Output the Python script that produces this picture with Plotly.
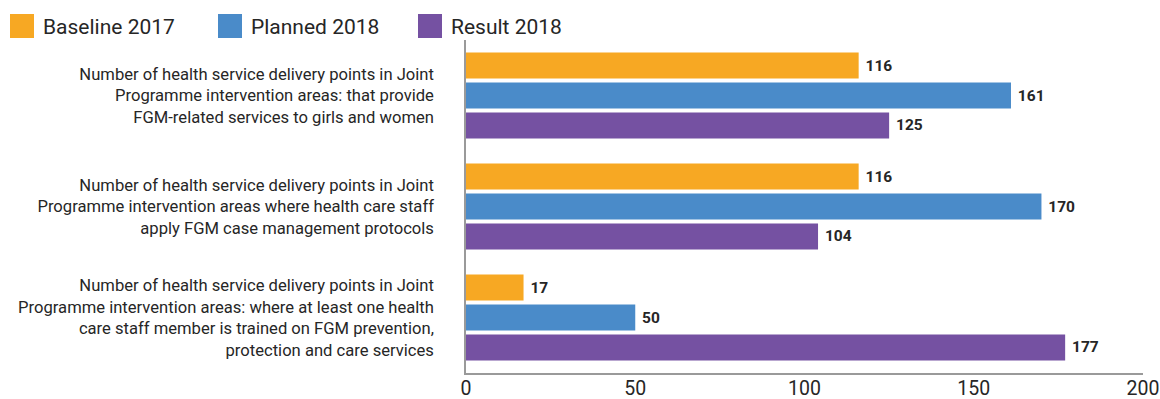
import plotly.graph_objects as go

categories = [
    "Number of health service delivery points in Joint<br>Programme intervention areas: that provide<br>FGM-related services to girls and women",
    "Number of health service delivery points in Joint<br>Programme intervention areas where health care staff<br>apply FGM case management protocols",
    "Number of health service delivery points in Joint<br>Programme intervention areas: where at least one health<br>care staff member is trained on FGM prevention,<br>protection and care services",
]
series_names = ["Baseline 2017", "Planned 2018", "Result 2018"]
baseline_2017 = [116, 116, 17]
planned_2018 = [161, 170, 50]
result_2018 = [125, 104, 177]
x_ticks = [0, 50, 100, 150, 200]

colors = ["#F7A823", "#4A8BC9", "#7551A2"]
FONT = "Roboto, sans-serif"

W, H = 1160, 399
L, R, T, B = 466, W - 1143, 40, H - 373
PW, PH = W - L - R, H - T - B

fig = go.Figure()
for name, vals, col in zip(series_names, [baseline_2017, planned_2018, result_2018], colors):
    fig.add_trace(go.Bar(
        y=categories, x=vals, name=name, orientation="h",
        marker=dict(color=col, line=dict(width=0)),
        text=[f" {v}" for v in vals], textposition="outside",
        textfont=dict(family=FONT, size=15.5, color="#262626", weight="bold"),
        cliponaxis=False, showlegend=False,
    ))

# manual legend (large square swatches like the reference), screen coords
leg_x = [10, 218, 418]
for name, col, lx in zip(series_names, colors, leg_x):
    fig.add_shape(type="rect", xref="paper", yref="paper",
                  x0=(lx - L) / PW, x1=(lx + 24 - L) / PW,
                  y0=(H - B - 38) / PH, y1=(H - B - 14) / PH,
                  fillcolor=col, line=dict(width=0))
    fig.add_annotation(text=name, xref="paper", yref="paper",
                       x=(lx + 31 - L) / PW, y=(H - B - 27) / PH,
                       xanchor="left", yanchor="middle", showarrow=False,
                       font=dict(family=FONT, size=21, color="#262626"))

fig.update_layout(
    width=W, height=H,
    margin=dict(l=L, r=R, t=T, b=B),
    paper_bgcolor="white", plot_bgcolor="white",
    barmode="group", bargap=0.19, bargroupgap=0.13,
    font=dict(family=FONT, color="#262626"),
    showlegend=False,
)
fig.update_yaxes(
    autorange="reversed", showgrid=False, zeroline=False, automargin=False,
    showline=True, linecolor="#9a9a9a", linewidth=1.5,
    ticks="", ticklabelstandoff=27,
    tickfont=dict(family=FONT, size=16.6, color="#262626"),
)
fig.update_xaxes(
    range=[0, 200], tickvals=x_ticks, showgrid=False, zeroline=False, automargin=False,
    showline=True, linecolor="#9a9a9a", linewidth=1.5, ticks="",
    ticklabelstandoff=-3,
    tickfont=dict(family=FONT, size=19.5, color="#262626"),
)

fig.write_html(
    "out.html",
    config={"displayModeBar": False},
    post_script="document.body.style.margin='0';document.body.style.overflow='hidden';",
)
